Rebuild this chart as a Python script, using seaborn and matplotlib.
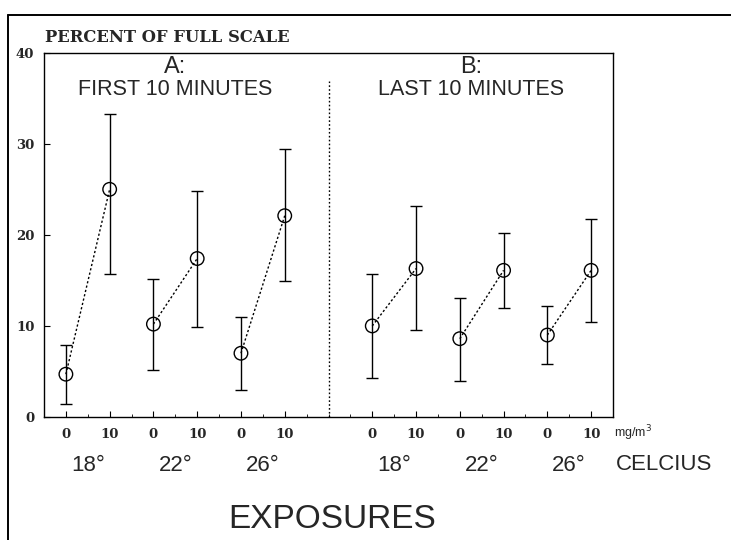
import numpy as np
import pandas as pd
import matplotlib
matplotlib.use("Agg")
import matplotlib.pyplot as plt
import seaborn as sns
from matplotlib.lines import Line2D

# ---- data ----
periods = ["A", "B"]
period_titles = ["A:\nFIRST 10 MINUTES", "B:\nLAST 10 MINUTES"]
temperatures = ["18°", "22°", "26°"]
doses = ["0", "10"]

means_A = [4.7, 25.0, 10.2, 17.4, 7.0, 22.1]
upper_A = [7.9, 33.3, 15.1, 24.8, 11.0, 29.4]
lower_A = [1.4, 15.7, 5.2, 9.9, 3.0, 14.9]

means_B = [10.0, 16.3, 8.6, 16.1, 9.0, 16.1]
upper_B = [15.7, 23.2, 13.1, 20.2, 12.2, 21.7]
lower_B = [4.3, 9.5, 4.0, 12.0, 5.8, 10.4]

y_ticks = [0, 10, 20, 30, 40]

# ---- build table ----
rows = []
for pi, (p, m, u, l) in enumerate(zip(periods, [means_A, means_B],
                                      [upper_A, upper_B], [lower_A, lower_B])):
    k = 0
    for ti, t in enumerate(temperatures):
        for di, d in enumerate(doses):
            rows.append(dict(period=p, temp=t, dose=d,
                             pos=pi * 7 + ti * 2 + di,
                             mean=m[k], hi=u[k], lo=l[k],
                             pair=f"{p}{t}"))
            k += 1
df = pd.DataFrame(rows)

sns.set_style("ticks")
plt.rcParams["font.family"] = ["Liberation Sans", "DejaVu Sans"]

fig = plt.figure(figsize=(7.31, 5.40), dpi=100)
ax = fig.add_axes([44 / 731, 1 - 417 / 540, (613 - 44) / 731, (417 - 52.7) / 540])

# dotted connecting lines
sns.lineplot(data=df, x="pos", y="mean", hue="pair",
             palette=["black"] * df["pair"].nunique(), units="pair",
             estimator=None, legend=False, ax=ax, linewidth=1.0,
             linestyle=(0, (1.6, 1.6)))
# error bars
ax.errorbar(df["pos"], df["mean"],
            yerr=[df["mean"] - df["lo"], df["hi"] - df["mean"]],
            fmt="none", ecolor="black", elinewidth=1.0, capsize=4.2,
            capthick=1.0, zorder=2)
# open circles
sns.scatterplot(data=df, x="pos", y="mean", marker="o", s=95,
                color="black", ax=ax, zorder=3, legend=False)
for c in ax.collections[-1:]:
    c.set_facecolor("none")
    c.set_edgecolor("black")
    c.set_linewidth(1.0)

# divider between panels
ax.axvline(6, ymin=0, ymax=0.922, color="black", linestyle=(0, (1.2, 1.6)),
           linewidth=1.0)

ax.set_xlim(-0.5, 12.5)
ax.set_ylim(0, 40)
ax.set_xlabel("")
ax.set_ylabel("")

ax.set_xticks(df["pos"])
ax.set_xticklabels(list(df["dose"]))
ax.set_xticks(np.arange(-0.5, 12.6, 0.5), minor=True)
ax.set_yticks(y_ticks)
ax.set_yticklabels([str(v) for v in y_ticks])
ax.tick_params(axis="both", which="major", direction="in", length=4,
               width=0.8, color="black")
ax.tick_params(axis="x", which="minor", direction="in", length=2,
               width=0.6, color="black")
ax.tick_params(axis="x", which="major", pad=8)
ax.tick_params(axis="y", which="major", pad=7)
for lab in ax.get_xticklabels() + ax.get_yticklabels():
    lab.set_fontfamily("DejaVu Serif")
    lab.set_fontweight("bold")
    lab.set_fontsize(9.5)
for sp in ax.spines.values():
    sp.set_linewidth(1.0)
    sp.set_color("black")

# panel titles
for pi, title in enumerate(period_titles):
    xc = 2.5 if pi == 0 else 9.25
    head, sub = title.split("\n")
    ax.text(xc, 0.960, head, transform=ax.get_xaxis_transform(),
            ha="center", va="center", fontsize=17)
    ax.text(xc, 0.898, sub, transform=ax.get_xaxis_transform(),
            ha="center", va="center", fontsize=15.5)

# temperature labels
for pi in range(len(periods)):
    for ti, t in enumerate(temperatures):
        ax.text(pi * 7 + ti * 2 + 0.5, -0.132, t,
                transform=ax.get_xaxis_transform(),
                ha="center", va="center", fontsize=16)

fig.text(614 / 731, 1 - 433 / 540, "mg/m$^3$", ha="left", va="center",
         fontsize=9)
fig.text(616 / 731, 1 - 464 / 540, "CELCIUS", ha="left", va="center",
         fontsize=16)
fig.text(332 / 731, 1 - 520 / 540, "EXPOSURES", ha="center", va="center",
         fontsize=24)
fig.text(45 / 731, 1 - 38 / 540, "PERCENT OF FULL SCALE", ha="left",
         va="center", fontsize=11.8, fontfamily="DejaVu Serif",
         fontweight="bold")

# page frame (left and top edges)
fig.add_artist(Line2D([8 / 731, 8 / 731], [0, 1 - 15 / 540],
                      transform=fig.transFigure, color="black", lw=1.4))
fig.add_artist(Line2D([8 / 731, 1], [1 - 15 / 540, 1 - 15 / 540],
                      transform=fig.transFigure, color="black", lw=1.4))

fig.savefig("out.png", dpi=100)
